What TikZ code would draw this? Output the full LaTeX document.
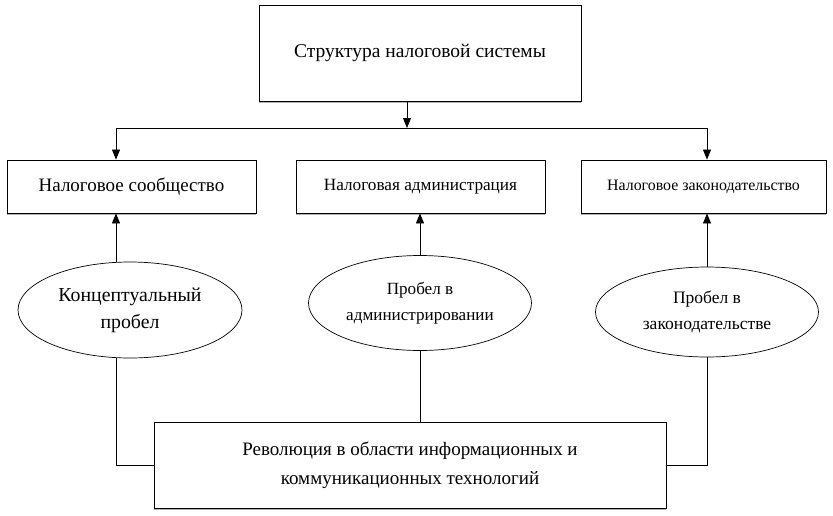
\documentclass[tikz,border=0pt]{standalone}
\usepackage{fontspec}
\setmainfont{Liberation Serif}
\usetikzlibrary{arrows.meta,shapes.geometric,shadows}
\begin{document}
\begin{tikzpicture}[x=1pt,y=1pt,
    box/.style={draw,line width=0.9pt,fill=white,align=center,inner sep=0pt,
        drop shadow={shadow xshift=0pt,shadow yshift=-2pt,fill=black!30,opacity=1}},
    oval/.style={draw,ellipse,line width=0.7pt,fill=white,align=center,inner sep=0pt},
    link/.style={line width=0.8pt},
    arr/.style={link,-{Triangle[length=10pt,width=8pt]}}]
    \useasboundingbox (0,0) rectangle (833,-515);
    % Уровень 1
    \node[box,minimum width=322,minimum height=96,font=\fontsize{19.5}{24}\selectfont] (sys) at (420,-53) {Структура налоговой системы};
    % Уровень 2
    \node[box,minimum width=249,minimum height=53,font=\fontsize{19}{23}\selectfont] (soob) at (131.5,-186.5) {Налоговое сообщество};
    \node[box,minimum width=249,minimum height=53,font=\fontsize{17.2}{21}\selectfont] (adm) at (420.5,-186.5) {Налоговая администрация};
    \node[box,minimum width=245,minimum height=53,font=\fontsize{15.9}{19}\selectfont] (zak) at (703.5,-186.5) {Налоговое законодательство};
    % Пробелы
    \node[oval,minimum width=224,minimum height=96,font=\fontsize{19.8}{27}\selectfont] (gap1) at (130,-310) {Концептуальный\\пробел};
    \node[oval,minimum width=223,minimum height=95,font=\fontsize{17.1}{26}\selectfont] (gap2) at (420,-303) {Пробел в\\администрировании};
    \node[oval,minimum width=223,minimum height=90,font=\fontsize{17.5}{26}\selectfont] (gap3) at (707,-312) {Пробел в\\законодательстве};
    % Революция ИКТ
    \node[box,minimum width=512,minimum height=86,font=\fontsize{19}{29}\selectfont] (rev) at (410,-465) {Революция в области информационных и\\коммуникационных технологий};
    % Связи
    \coordinate (split) at (407,-128);
    \coordinate (cL) at (116,-128);
    \coordinate (cR) at (707,-128);
    \draw[arr] (sys.south -| split) -- (split);
    \draw[link] (cL) -- (cR);
    \draw[arr] (cL) -- (cL |- soob.north);
    \draw[arr] (cR) -- (cR |- zak.north);
    \draw[arr] (gap1.north -| cL) -- (cL |- soob.south);
    \draw[arr] (gap2.north) -- (gap2.north |- adm.south);
    \draw[arr] (gap3.north -| cR) -- (cR |- zak.south);
    \draw[link] (gap1.south -| cL) |- (rev.west);
    \draw[link] (gap2.south) -- (gap2.south |- rev.north);
    \draw[link] (gap3.south -| cR) |- (rev.east);
\end{tikzpicture}
\end{document}
